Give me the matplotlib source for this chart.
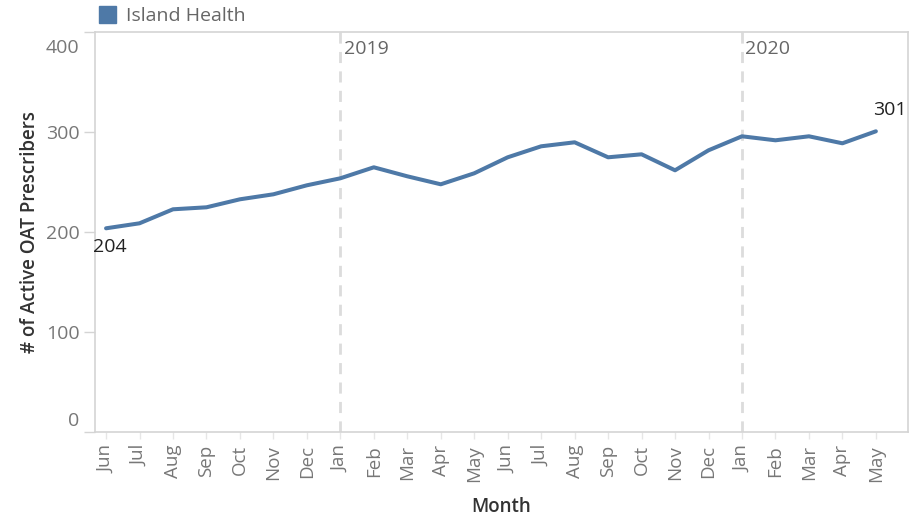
import matplotlib
matplotlib.use("Agg")
import matplotlib.pyplot as plt
from matplotlib.patches import Rectangle
from matplotlib.transforms import ScaledTranslation

plt.rcParams['font.family'] = ['Open Sans', 'DejaVu Sans']

months = ["Jun", "Jul", "Aug", "Sep", "Oct", "Nov", "Dec",
          "Jan", "Feb", "Mar", "Apr", "May", "Jun", "Jul", "Aug", "Sep", "Oct", "Nov", "Dec",
          "Jan", "Feb", "Mar", "Apr", "May"]
prescribers = [204, 209, 223, 225, 233, 238, 247, 254, 265, 256, 248, 259,
               275, 286, 290, 275, 278, 262, 282, 296, 292, 296, 289, 301]
year_marks = [("2019", 7), ("2020", 19)]
series_name = "Island Health"
y_ticks = [0, 100, 200, 300, 400]

W, H = 924, 521
fig = plt.figure(figsize=(W / 100, H / 100), dpi=100)
ax = fig.add_axes([95 / W, (H - 432.3) / H, (908 - 95) / W, (432.3 - 32.3) / H])

line_color = "#4e79a7"
x = list(range(len(prescribers)))
ax.plot(x, prescribers, color=line_color, lw=2.9, solid_capstyle='round',
        solid_joinstyle='round', zorder=3)

for label, idx in year_marks:
    ax.axvline(idx, color="#dcdcdc", lw=2, ls=(0, (4, 3)), zorder=1)
    ax.text(idx + 0.1, 383, label, color="#666666", fontsize=14, va="center", ha="left")

ax.text(x[0] - 0.4, prescribers[0] - 19, str(prescribers[0]), color="#222222",
        fontsize=14, ha="left", va="center")
ax.text(x[-1] + 0.92, prescribers[-1] + 21, str(prescribers[-1]), color="#222222",
        fontsize=14, ha="right", va="center")

ax.set_xlim(-0.33, 23.96)
ax.set_ylim(0, 400)
ax.set_yticks(y_ticks)
ax.set_yticklabels([str(v) for v in y_ticks], color="#777777", fontsize=14)
ax.tick_params(axis='y', length=8, color="#d4d4d4", width=1, pad=3)
ax.tick_params(axis='x', length=5, color="#e6e6e6", width=1, pad=4)
ax.set_xticks(x)
ax.set_xticklabels(months, rotation=90, color="#777777", fontsize=13.5)
ylabels = ax.get_yticklabels()
ylabels[0].set_va("center")
ylabels[0].set_transform(ylabels[0].get_transform() +
                         ScaledTranslation(0, 11 / 100, fig.dpi_scale_trans))
ylabels[-1].set_va("center")
ylabels[-1].set_transform(ylabels[-1].get_transform() +
                          ScaledTranslation(0, -16 / 100, fig.dpi_scale_trans))
for s in ax.spines.values():
    s.set_color("#d4d4d4")
    s.set_linewidth(1.2)

ax.set_ylabel("# of Active OAT Prescribers", fontsize=13.5, color="#333333",
              fontweight="semibold", labelpad=4)
ax.set_xlabel("Month", fontsize=13.5, color="#333333", fontweight="semibold", labelpad=11)

# legend
fig.patches.append(Rectangle((99 / W, (H - 23) / H), 17 / W, 17 / H,
                             transform=fig.transFigure, color=line_color))
fig.text(126 / W, (H - 16) / H, series_name, fontsize=14, color="#666666",
         va="center", ha="left")

fig.savefig("out.png", dpi=100)
